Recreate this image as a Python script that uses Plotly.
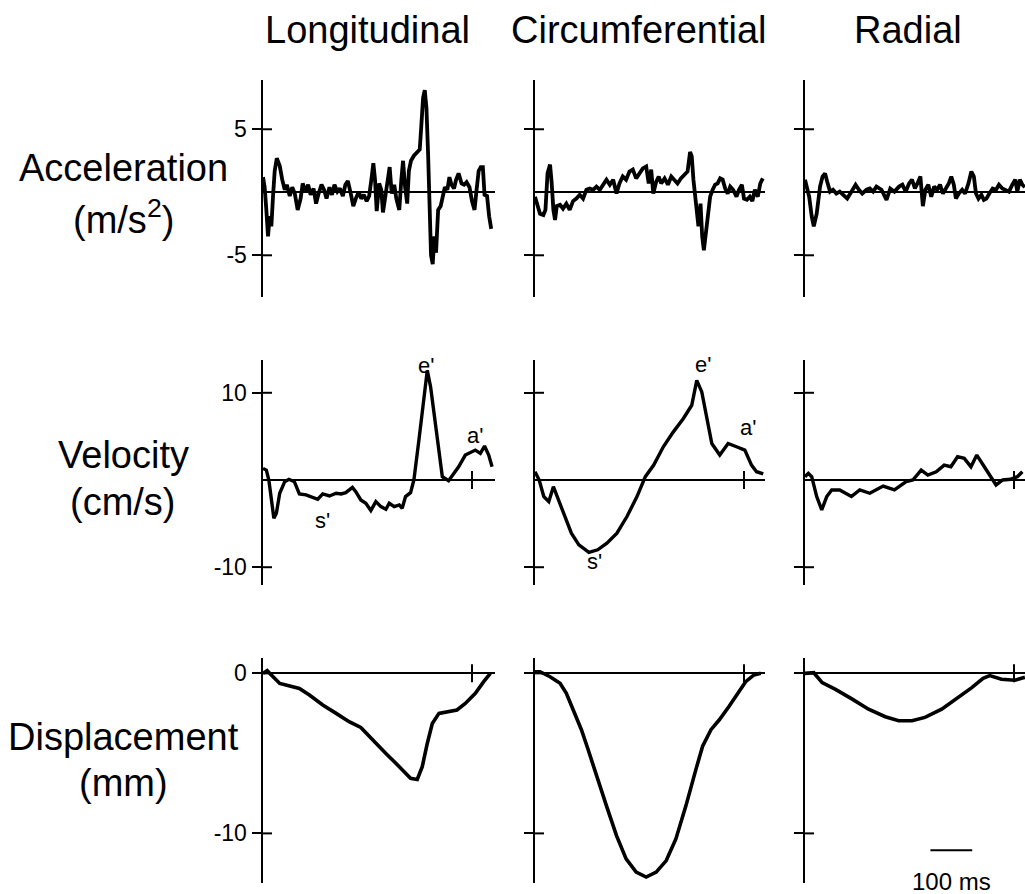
import plotly.graph_objects as go

# ---------------- data (time in ms) ----------------
COLUMNS = ["Longitudinal", "Circumferential", "Radial"]
ROW_NAMES = ["Acceleration", "Velocity", "Displacement"]
ROW_UNITS = ["(m/s<sup>2</sup>)", "(cm/s)", "(mm)"]
ACC_TICKS = [-5, 5]
VEL_TICKS = [-10, 10]
DISP_TICKS = [-10, 0]
ACC_TICK_TEXT = ["-5", "5"]
VEL_TICK_TEXT = ["-10", "10"]
DISP_TICK_TEXT = ["-10", "0"]
TIME_TICK = [500]
SCALE_BAR_MS = [300, 400]
SCALE_LABEL = "100 ms"

# Longitudinal acceleration (m/s^2)
LA_T = [0, 4, 8, 12, 16, 20, 24, 28, 33, 40,
        46, 52, 57, 64, 70, 76, 83, 90, 95, 102,
        108, 114, 121, 127, 133, 140, 146, 152, 159, 165,
        171, 178, 184, 191, 197, 203, 210, 216, 222, 229,
        235, 241, 248, 254, 260, 264, 268, 272, 278, 283,
        287, 292, 298, 303, 308, 314, 319, 326, 331, 335,
        340, 345, 349, 354, 361, 369, 375, 379, 383, 387,
        391, 395, 399, 402, 406, 410, 414, 419, 425, 430,
        435, 441, 446, 451, 457, 462, 468, 475, 481, 487,
        494, 500, 506, 511, 516, 521, 526, 530, 536, 541,
        546]
LA_V = [1.2, 0.4, -1.4, -3.5, -1.9, -2.7, -0.3, 1.7, 2.7, 2.1,
        1.0, 0.2, 0.6, -0.3, 0.4, -0.1, -1.4, -0.5, 0.7, 0.05,
        0.6, -0.2, 0.3, -0.9, -0.1, 0.6, 0.2, -0.5, 0.4, -0.2,
        0.6, 0.05, 0.3, -0.3, 0.6, 0.9, -0.1, -1.1, -0.5, 0.05,
        -0.5, -0.2, -0.7, -0.3, 1.2, 2.3, 1.0, -1.5, 0.7, 0.2,
        -1.6, -0.6, 1.0, 2.0, -0.1, 0.6, -0.5, -1.4, 1.0, 2.5,
        0.4, -0.9, 1.7, 2.5, 2.9, 3.2, 3.4, 5.4, 7.5, 8.1,
        6.7, 3.0, -1.4, -5.0, -5.7, -3.5, -4.8, -1.4, -1.1, -0.3,
        0.4, 0.2, 1.2, 0.6, 0.3, 1.0, 1.5, 0.7, 0.6, 0.8,
        0.4, -0.7, -1.4, 0.2, 1.7, 2.0, 2.0, -0.2, -0.3, -1.9,
        -2.9]

# Circumferential acceleration
CA_T = [0, 6, 12, 20, 25, 30, 36, 40, 44, 48,
        52, 60, 67, 75, 83, 91, 99, 107, 115, 123,
        131, 139, 147, 155, 163, 171, 179, 187, 195, 202,
        210, 218, 226, 234, 242, 250, 258, 266, 272, 278,
        283, 290, 296, 302, 310, 318, 326, 333, 341, 349,
        357, 365, 371, 375, 379, 383, 387, 391, 396, 400,
        404, 409, 414, 419, 425, 431, 437, 443, 449, 455,
        461, 467, 474, 482, 488, 495, 500, 507, 514, 520,
        526, 533, 539, 545]
CA_V = [-0.35, -1.1, -1.7, -1.8, -1.4, 1.5, 2.2, 0.7, -1.4, -2.2,
        -1.1, -1.0, -1.3, -0.9, -1.4, -0.7, -0.5, -0.2, -0.5, 0.2,
        0.3, 0.2, 0.45, 0.2, 0.6, 1.0, 0.6, 1.0, -0.1, 0.7,
        1.25, 1.0, 1.65, 1.8, 1.1, 1.5, 1.9, 2.05, 0.7, 1.8,
        -0.1, 0.85, 1.25, 0.7, 1.1, 0.6, 1.25, 1.0, 0.7, 1.1,
        1.4, 1.65, 3.2, 2.85, 1.0, -0.2, -1.4, -2.7, -0.9, -3.5,
        -4.6, -3.0, -1.4, -0.35, 0.2, 0.6, 0.7, 1.1, 1.0, 0.3,
        -0.1, 0.45, 0.2, -0.35, 0.2, 0.6, -0.5, -0.6, -0.35, -0.7,
        0.2, -0.35, 0.7, 1.1]

# Radial acceleration
RA_T = [0, 4, 10, 16, 21, 28, 36, 42, 48, 53,
        60, 67, 75, 83, 91, 101, 111, 121, 129, 137,
        147, 155, 163, 171, 183, 195, 204, 214, 225, 233,
        241, 249, 256, 263, 269, 276, 282, 288, 295, 302,
        309, 316, 323, 330, 337, 344, 350, 356, 361, 368,
        376, 383, 391, 398, 404, 409, 415, 422, 428, 434,
        441, 449, 457, 464, 472, 480, 488, 496, 503, 508,
        514, 520, 526]
RA_V = [1.0, 0.45, -0.35, -1.9, -2.7, -1.7, 0.45, 1.25, 1.5, 0.85,
        0.05, 0.2, -0.1, 0.05, -0.2, -0.5, 0.05, 0.6, 0.2, -0.1,
        0.2, 0.3, 0.05, 0.45, 0.2, -0.6, 0.3, 0.05, 0.45, 0.6,
        0.05, 0.7, 1.0, 0.3, 0.7, 1.25, -1.1, 0.2, 0.6, -0.35,
        0.45, 0.2, 0.6, -0.1, 0.3, 0.7, 1.25, 0.6, -0.5, -0.1,
        0.2, -0.1, 0.7, 1.65, 1.25, -0.1, -0.5, -0.2, -0.6, -0.5,
        -0.1, 0.3, 0.2, 0.6, 0.3, 0.2, 0.05, 0.6, 1.0, 0.05,
        1.0, 0.6, 0.4]

# Longitudinal velocity (cm/s)
LV_T = [0, 8, 14, 20, 26, 32, 40, 52, 62, 75,
        87, 103, 115, 131, 143, 159, 175, 187, 198, 214,
        222, 234, 246, 258, 270, 282, 294, 302, 314, 326,
        333, 341, 353, 361, 373, 385, 393, 401, 413, 429,
        444, 468, 484, 508, 520, 530, 540, 548]
LV_V = [1.33, 1.14, 0, -2.29, -4.38, -3.81, -1.52, -0.19, 0.08, -0.19,
        -1.6, -1.71, -1.9, -2.21, -1.6, -1.83, -1.52, -1.6, -1.45, -0.84,
        -1.33, -2.29, -2.67, -3.5, -2.48, -3.05, -3.35, -2.67, -3.05, -2.86,
        -3.24, -1.9, -1.45, 0, 4.57, 9.9, 12.57, 10.67, 6.1, 0.38,
        -0.08, 1.52, 2.86, 3.43, 3.05, 3.89, 2.86, 1.52]

# Circumferential velocity
CV_T = [0, 10, 21, 33, 44, 53, 71, 87, 105, 129,
        150, 172, 196, 220, 244, 264, 284, 307, 331, 355,
        375, 387, 399, 411, 423, 442, 462, 482, 502, 518,
        530, 546]
CV_V = [0.95, 0, -1.9, -2.48, -0.76, -1.9, -4.19, -6.1, -7.43, -8.3,
        -8.0, -7.24, -6.1, -4.19, -1.9, 0.38, 1.71, 3.81, 5.52, 7.05,
        8.57, 11.43, 10.1, 7.24, 4.19, 2.86, 4.19, 3.81, 3.43, 1.71,
        0.95, 0.69]

# Radial velocity
RV_T = [0, 8, 16, 28, 40, 52, 64, 83, 111, 131,
        155, 187, 214, 242, 258, 278, 294, 314, 333, 349,
        365, 381, 397, 411, 429, 445, 457, 473, 492, 508,
        520]
RV_V = [0.38, 0.76, 0.38, -1.9, -3.43, -1.9, -1.14, -1.14, -1.9, -1.14,
        -1.52, -0.69, -1.14, -0.19, 0, 1.14, 0.57, 0.95, 1.71, 1.52,
        2.67, 2.48, 1.52, 2.86, 1.52, 0.38, -0.57, 0, 0.08, 0.38,
        0.95]

# Longitudinal displacement (mm)
LD_T = [0, 10, 20, 40, 64, 87, 111, 143, 175, 206,
        234, 262, 294, 326, 353, 369, 381, 393, 405, 421,
        444, 464, 484, 508, 528, 544]
LD_V = [0, 0.17, -0.1, -0.63, -0.79, -0.94, -1.35, -1.98, -2.5, -3.02,
        -3.38, -4.17, -5.0, -5.83, -6.56, -6.63, -5.83, -4.38, -3.13, -2.5,
        -2.4, -2.29, -1.88, -1.25, -0.52, 0]

# Circumferential displacement
CD_T = [0, 12, 36, 60, 75, 91, 111, 127, 147, 171,
        195, 218, 242, 266, 290, 314, 337, 361, 385, 401,
        421, 441, 464, 488, 504, 524, 540]
CD_V = [0.1, 0.1, -0.21, -0.62, -1.24, -2.28, -3.52, -4.76, -6.42, -8.28,
        -10.14, -11.59, -12.42, -12.73, -12.42, -11.7, -10.35, -8.28, -6.0, -4.55,
        -3.52, -2.9, -2.07, -1.14, -0.52, -0.1, 0]

# Radial displacement
RD_T = [0, 21, 41, 73, 113, 152, 192, 224, 256, 287,
        327, 367, 399, 426, 442, 470, 502, 522, 526]
RD_V = [0, 0.04, -0.58, -1.0, -1.61, -2.24, -2.71, -2.96, -2.96, -2.75,
        -2.24, -1.51, -0.89, -0.31, -0.14, -0.37, -0.43, -0.27, -0.25]

# peak labels
PEAK_TEXT = ["e'", "a'", "s'", "e'", "a'", "s'"]
PEAK_ROW = [1, 1, 1, 1, 1, 1]
PEAK_COL = [0, 0, 0, 1, 1, 1]
PEAK_T = [389, 508, 143, 401, 510, 143]
PEAK_V = [13.1, 5.1, -4.6, 13.3, 6.0, -9.3]

SERIES = [
    [(LA_T, LA_V), (CA_T, CA_V), (RA_T, RA_V)],
    [(LV_T, LV_V), (CV_T, CV_V), (RV_T, RV_V)],
    [(LD_T, LD_V), (CD_T, CD_V), (RD_T, RD_V)],
]
ROW_TICKS = [ACC_TICKS, VEL_TICKS, DISP_TICKS]
ROW_TICK_TEXT = [ACC_TICK_TEXT, VEL_TICK_TEXT, DISP_TICK_TEXT]

# ---------------- layout geometry (pixels) ----------------
W, H = 1025, 894
PX_PER_MS = 0.418
COL_LEFT = [263, 535, 805]
COL_RIGHT = [495, 765, 1025]
ROW_TOP = [80, 360, 658]
ROW_BOT = [297, 585, 883]
ROW_RANGE = [(-8.31, 8.91), (-12.04, 13.76), (-13.1, 0.96)]
ROW_LINE_W = [3.8, 3.4, 3.6]
FONT = "Liberation Sans, Arial, Helvetica, sans-serif"

fig = go.Figure()
shapes = []
annotations = []
layout = dict(
    width=W, height=H,
    margin=dict(l=0, r=0, t=0, b=0),
    paper_bgcolor="white", plot_bgcolor="white",
    showlegend=False,
    font=dict(family=FONT, color="black"),
)

for i in range(3):
    for j in range(3):
        n = i * 3 + j + 1
        sfx = "" if n == 1 else str(n)
        xr, yr = "x" + sfx, "y" + sfx
        t, v = SERIES[i][j]
        fig.add_trace(go.Scatter(x=t, y=v, mode="lines", xaxis=xr, yaxis=yr,
                                 line=dict(color="black", width=ROW_LINE_W[i]),
                                 hoverinfo="skip"))
        xmax = (COL_RIGHT[j] - COL_LEFT[j]) / PX_PER_MS
        layout["xaxis" + sfx] = dict(
            domain=[COL_LEFT[j] / W, COL_RIGHT[j] / W],
            range=[0, xmax], anchor=yr, visible=False, fixedrange=True)
        layout["yaxis" + sfx] = dict(
            domain=[1 - ROW_BOT[i] / H, 1 - ROW_TOP[i] / H],
            range=list(ROW_RANGE[i]), anchor=xr,
            showline=True, linecolor="black", linewidth=2.5,
            zeroline=True, zerolinecolor="black", zerolinewidth=2,
            showgrid=False, ticks="outside", ticklen=9, tickwidth=2,
            tickcolor="black", tickvals=ROW_TICKS[i],
            ticktext=ROW_TICK_TEXT[i], showticklabels=(j == 0),
            tickfont=dict(size=23, family=FONT, color="black"),
            fixedrange=True)
        for tv in ROW_TICKS[i]:
            shapes.append(dict(type="line", xref=xr, yref=yr,
                               xsizemode="pixel", xanchor=0, x0=0, x1=9,
                               y0=tv, y1=tv,
                               line=dict(color="black", width=2)))
        if i > 0:
            for tt in TIME_TICK:
                shapes.append(dict(type="line", xref=xr, yref=yr,
                                   ysizemode="pixel", yanchor=0, y0=-9, y1=9,
                                   x0=tt, x1=tt,
                                   line=dict(color="black", width=2)))

for txt, r, c, tt, vv in zip(PEAK_TEXT, PEAK_ROW, PEAK_COL, PEAK_T, PEAK_V):
    n = r * 3 + c + 1
    sfx = "" if n == 1 else str(n)
    annotations.append(dict(text=txt, x=tt, y=vv, xref="x" + sfx, yref="y" + sfx,
                            showarrow=False, xanchor="center", yanchor="middle",
                            font=dict(size=22, family=FONT, color="black")))

shapes.append(dict(type="line", xref="x9", yref="y9",
                   x0=SCALE_BAR_MS[0], x1=SCALE_BAR_MS[1], y0=-11.05, y1=-11.05,
                   line=dict(color="black", width=2)))
annotations.append(dict(text=SCALE_LABEL, x=sum(SCALE_BAR_MS) / 2, y=-13.0,
                        xref="x9", yref="y9", showarrow=False,
                        xanchor="center", yanchor="middle",
                        font=dict(size=24, family=FONT, color="black")))

COL_TITLE_X = [367, 639, 908]
for name, cx in zip(COLUMNS, COL_TITLE_X):
    annotations.append(dict(text=name, x=cx / W, y=1 - 30 / H, xref="paper",
                            yref="paper", showarrow=False, xanchor="center",
                            yanchor="middle",
                            font=dict(size=38, family=FONT, color="black")))

NAME_Y = [168, 455, 737]
UNIT_Y = [217, 502, 783]
for name, unit, ny, uy in zip(ROW_NAMES, ROW_UNITS, NAME_Y, UNIT_Y):
    annotations.append(dict(text=name, x=123 / W, y=1 - ny / H, xref="paper",
                            yref="paper", showarrow=False, xanchor="center",
                            yanchor="middle",
                            font=dict(size=38, family=FONT, color="black")))
    annotations.append(dict(text=unit, x=123 / W, y=1 - uy / H, xref="paper",
                            yref="paper", showarrow=False, xanchor="center",
                            yanchor="middle",
                            font=dict(size=38, family=FONT, color="black")))

layout["shapes"] = shapes
layout["annotations"] = annotations
fig.update_layout(**layout)
fig.write_html("out.html",
               config={"displayModeBar": False, "staticPlot": True},
               post_script="document.body.style.margin='0px';"
                           "document.body.style.overflow='hidden';")
